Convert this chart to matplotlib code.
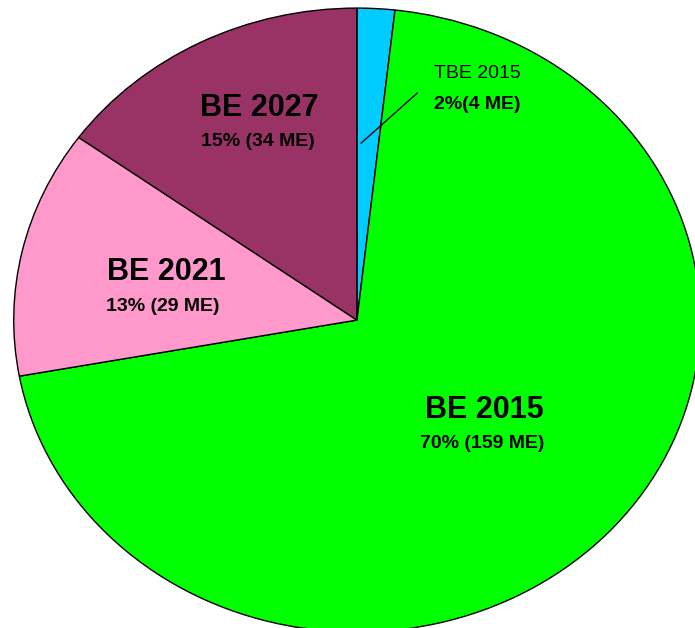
import matplotlib
matplotlib.use("Agg")
import matplotlib.pyplot as plt

plt.rcParams['font.family'] = ['Liberation Sans', 'DejaVu Sans']

# slices, clockwise from 12 o'clock
names = ['TBE 2015', 'BE 2015', 'BE 2021', 'BE 2027']
values_me = [4, 159, 29, 34]
colors = ['#00CCFF', '#00FF00', '#FF99CC', '#993366']

# label placement (data coords, pie radius = 1)
title_xy = [(0.35, 0.792), (0.37, -0.288), (-0.555, 0.154), (-0.283, 0.679)]
sub_xy = [(0.35, 0.692), (0.366, -0.397), (-0.567, 0.045), (-0.289, 0.571)]

total = sum(values_me)

fig = plt.figure(figsize=(6.95, 6.28), dpi=100)
ax = fig.add_axes([0, 0, 1, 1])
ax.pie(values_me, colors=colors, startangle=90, counterclock=False,
       wedgeprops=dict(edgecolor='black', linewidth=1.0))
ax.set_aspect('auto')
ax.set_xlim(-1.04, 0.985)
ax.set_ylim(-0.987, 1.026)
ax.axis('off')

for i, name in enumerate(names):
    pct = round(values_me[i] / total * 100)
    if i == 0:
        ax.text(*title_xy[i], name, ha='center', va='center', fontsize=14)
        ax.text(*sub_xy[i], f"{pct}%({values_me[i]} ME)", ha='center', va='center',
                fontsize=14, fontweight='bold')
    else:
        ax.text(*title_xy[i], name, ha='center', va='center', fontsize=22,
                fontweight='bold')
        ax.text(*sub_xy[i], f"{pct}% ({values_me[i]} ME)", ha='center', va='center',
                fontsize=14, fontweight='bold')

# leader line for the small slice
ax.annotate('', xy=(0.012, 0.567), xytext=(0.176, 0.728),
            arrowprops=dict(arrowstyle='-', color='black', lw=1.0,
                            shrinkA=0, shrinkB=0))

fig.savefig('out.png', dpi=100, facecolor='white')
